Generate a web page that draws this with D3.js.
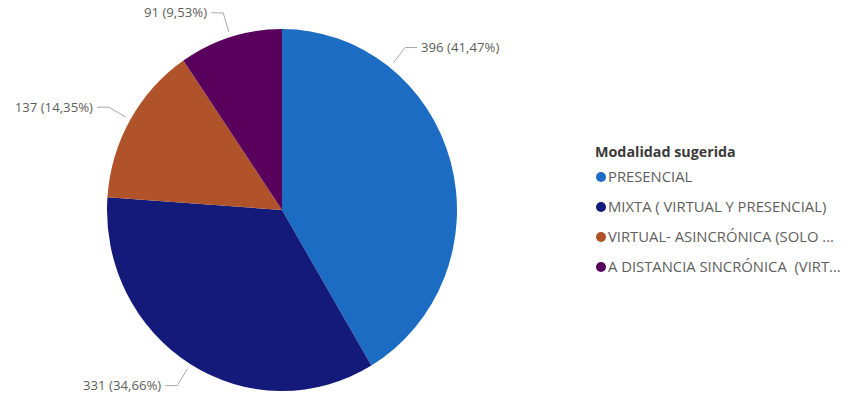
<!DOCTYPE html>
<html>
<head>
<meta charset="utf-8">
<script src="https://cdn.jsdelivr.net/npm/d3@7"></script>
<style>
  html, body { margin: 0; padding: 0; background: #ffffff; }
  svg { display: block; font-family: "Open Sans", "Segoe UI", sans-serif; }
  text { white-space: pre; }
</style>
</head>
<body>
<svg id="chart" width="849" height="393"></svg>
<script>
// Modalidad sugerida: respuestas por modalidad
const categories = [
  "PRESENCIAL",
  "MIXTA ( VIRTUAL Y PRESENCIAL)",
  "VIRTUAL- ASINCRÓNICA (SOLO ...",
  "A DISTANCIA SINCRÓNICA  (VIRT..."
];
const counts = [396, 331, 137, 91];
const percentLabels = ["41,47%", "34,66%", "14,35%", "9,53%"];
const colors = ["#1b6cc2", "#131a79", "#b0532a", "#58005c"];
const legendTitle = "Modalidad sugerida";

// Where along each slice the leader line leaves the pie (0 = start, 1 = end)
const leaderAt = [0.255, 0.5, 0.5, 0.5];

const svg = d3.select("#chart");
const cx = 282, cy = 210, rx = 175, ry = 181;

const slices = categories.map((c, i) => ({ name: c, value: counts[i], pct: percentLabels[i], color: colors[i], at: leaderAt[i] }));

const pie = d3.pie().sort(null).value(d => d.value).startAngle(0).endAngle(2 * Math.PI);
const arcs = pie(slices);
const arc = d3.arc().innerRadius(0).outerRadius(ry);

// Pie body (slightly compressed horizontally)
svg.append("g")
  .attr("transform", `translate(${cx},${cy}) scale(${rx / ry},1)`)
  .selectAll("path")
  .data(arcs)
  .join("path")
  .attr("d", arc)
  .attr("fill", d => d.data.color);

// Point on the pie outline at angle a, scaled radially by k
const onPie = (a, k) => [cx + k * rx * Math.sin(a), cy - k * ry * Math.cos(a)];

const labels = svg.append("g");
arcs.forEach(d => {
  const a = d.startAngle + (d.endAngle - d.startAngle) * d.data.at;
  const p0 = onPie(a, 1.03);
  const p1 = onPie(a, 1.14);
  const right = Math.sin(a) >= 0;
  const p2 = [p1[0] + (right ? 12 : -12), p1[1]];
  labels.append("polyline")
    .attr("points", [p0, p1, p2].map(p => p.join(",")).join(" "))
    .attr("fill", "none")
    .attr("stroke", "#a8a8a8")
    .attr("stroke-width", 1);
  labels.append("text")
    .attr("x", p2[0] + (right ? 4 : -4))
    .attr("y", p2[1])
    .attr("dy", "0.35em")
    .attr("text-anchor", right ? "start" : "end")
    .attr("font-size", 13.2)
    .attr("fill", "#605e5c")
    .text(`${d.data.value} (${d.data.pct})`);
});

// Legend
const legend = svg.append("g").attr("transform", "translate(595,0)");
legend.append("text")
  .attr("x", 0)
  .attr("y", 152)
  .attr("dy", "0.35em")
  .attr("font-size", 14.3)
  .attr("font-weight", "bold")
  .attr("fill", "#3b3a39")
  .text(legendTitle);

const ly = d3.scalePoint().domain(categories).range([177, 267]);
const items = legend.selectAll("g.item")
  .data(slices)
  .join("g")
  .attr("class", "item")
  .attr("transform", d => `translate(0,${ly(d.name)})`);
items.append("circle")
  .attr("cx", 6)
  .attr("cy", 0)
  .attr("r", 5)
  .attr("fill", d => d.color);
items.append("text")
  .attr("x", 13)
  .attr("y", 0)
  .attr("dy", "0.35em")
  .attr("font-size", 14.8)
  .attr("fill", "#605e5c")
  .text(d => d.name);
</script>
</body>
</html>
